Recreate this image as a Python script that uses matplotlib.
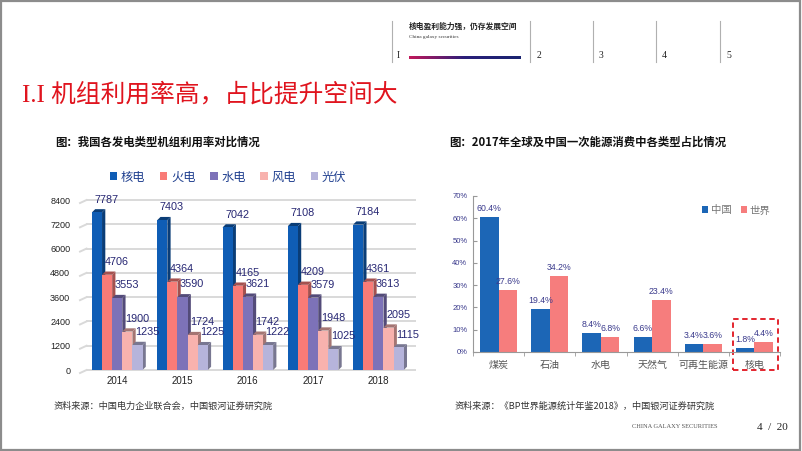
import numpy as np
import matplotlib
matplotlib.use('Agg')
import matplotlib.pyplot as plt
import matplotlib.colors as mcolors
from matplotlib.patches import Polygon, Rectangle, Patch

plt.rcParams['font.family'] = ['Noto Sans CJK SC', 'DejaVu Sans']

# ---- data: left chart (unit utilisation hours)
years = ['2014', '2015', '2016', '2017', '2018']
series_names = ['核电', '火电', '水电', '风电', '光伏']
nuclear = [7787, 7403, 7042, 7108, 7184]
thermal = [4706, 4364, 4165, 4209, 4361]
hydro = [3553, 3590, 3621, 3579, 3613]
wind = [1900, 1724, 1742, 1948, 2095]
solar = [1235, 1225, 1222, 1025, 1115]
left_yticks = [0, 1200, 2400, 3600, 4800, 6000, 7200, 8400]
left_colors = ['#0f5db5', '#f97b77', '#7d72b8', '#f8b2ae', '#b6b4db']

# ---- data: right chart (share of primary energy, 2017)
categories = ['煤炭', '石油', '水电', '天然气', '可再生能源', '核电']
china = [60.4, 19.4, 8.4, 6.6, 3.4, 1.8]
world = [27.6, 34.2, 6.8, 23.4, 3.6, 4.4]
right_yticks = [0, 10, 20, 30, 40, 50, 60, 70]

W, H = 802, 451
fig = plt.figure(figsize=(8.02, 4.51), dpi=100)


def fx(px):
    return px / W


def fy(py):
    return 1 - py / H


# slide frame
fig.patches.append(Rectangle((0.001, 0.002), 0.997, 0.995, transform=fig.transFigure,
                             fill=False, edgecolor='#8c8c8c', linewidth=1.6))

# ---- header navigation
for xp in [392, 530, 593, 656, 720]:
    fig.add_artist(plt.Line2D([fx(xp), fx(xp)], [fy(21), fy(62)], color='#b0b0b0', linewidth=0.8))
fig.text(fx(409), fy(26), '核电盈利能力强，仍存发展空间', fontsize=5.6, color='#222222',
         va='center', ha='left', fontweight='bold')
fig.text(fx(409), fy(37), 'China galaxy securities', fontsize=3.8, color='#333333',
         va='center', ha='left', family='Liberation Serif')
for lab, xp in zip(['I', '2', '3', '4', '5'], [397, 537, 599, 662, 726]):
    fig.text(fx(xp), fy(56), lab, fontsize=7, color='#222222', va='center', ha='left',
             family='Liberation Serif')
gax = fig.add_axes([fx(409), fy(59), fx(521 - 409), 3 / H])
grad = mcolors.LinearSegmentedColormap.from_list('g', ['#c2185b', '#2a1f7a', '#1a2470'])
gax.imshow(np.linspace(0, 1, 200).reshape(1, -1), aspect='auto', cmap=grad)
gax.axis('off')

# ---- title
fig.text(fx(22), fy(95), 'I.I 机组利用率高，占比提升空间大', fontsize=17.8, color='#e0141e',
         va='center', ha='left', family=['Liberation Serif', 'Noto Sans CJK SC'])

fig.text(fx(55), fy(142), '图：我国各发电类型机组利用率对比情况', fontsize=8.2,
         fontweight='bold', va='center', ha='left', color='#111111')
fig.text(fx(449), fy(142), '图：2017年全球及中国一次能源消费中各类型占比情况', fontsize=8.2,
         fontweight='bold', va='center', ha='left', color='#111111')

# ---- left chart: pseudo 3D bars
ax = fig.add_axes([fx(80), fy(370), fx(415 - 80), (370 - 200) / H])
xlim = (-0.57, 4.56)
ax.set_xlim(*xlim)
ax.set_ylim(0, 8400)
for s in ax.spines.values():
    s.set_visible(False)

dx, dy = 0.05, 160
wall_dx, wall_dy = 0.1, 150
for t in left_yticks:
    ax.plot([xlim[0] + wall_dx, xlim[1]], [t, t], color='#d9d9d9', linewidth=1.4, zorder=0,
            clip_on=False)
    ax.plot([xlim[0], xlim[0] + wall_dx], [t - wall_dy, t], color='#d9d9d9', linewidth=1.4,
            zorder=0, clip_on=False)

all_series = [nuclear, thermal, hydro, wind, solar]
bw = 0.155
x = np.arange(len(years))
z = 2
for j, (vals, col) in enumerate(zip(all_series, left_colors)):
    dark = tuple(c * 0.66 for c in mcolors.to_rgb(col))
    xl = x - 2.5 * bw + j * bw
    for xi, v in zip(xl, vals):
        side = [(xi + bw, 0), (xi + bw + dx, dy), (xi + bw + dx, v + dy), (xi + bw, v)]
        top = [(xi, v), (xi + dx, v + dy), (xi + bw + dx, v + dy), (xi + bw, v)]
        ax.add_patch(Polygon(side, closed=True, facecolor=dark, edgecolor='none', zorder=z))
        ax.add_patch(Polygon(top, closed=True, facecolor=dark, edgecolor='none', zorder=z))
        ax.text(xi + 0.04, v + dy + 230, str(v), fontsize=7.8, color='#262673',
                ha='left', va='bottom', family='Liberation Sans', zorder=20)
    ax.bar(xl, vals, width=bw, align='edge', color=col, edgecolor='none', zorder=z + 1)
    z += 2

ax.set_xticks(x)
ax.set_xticklabels(years, fontsize=7, color='#222222', family='Liberation Sans')
ax.set_yticks(left_yticks)
ax.set_yticklabels([str(t) for t in left_yticks], fontsize=6.5, color='#222222',
                   family='Liberation Sans')
ax.tick_params(length=0, pad=4)
ax.tick_params(axis='y', pad=7)

handles = [Patch(facecolor=c, edgecolor='none') for c in left_colors]
fig.legend(handles, series_names, loc='center', bbox_to_anchor=(fx(228), fy(177)), ncol=5,
           frameon=False, fontsize=8.8, handlelength=0.6, handleheight=0.6,
           handletextpad=0.3, columnspacing=1.2, labelcolor='#1f3f8f')

# ---- right chart
ax2 = fig.add_axes([fx(473), fy(352), fx(780 - 473), (352 - 196) / H])
xc = np.arange(len(categories))
bw2 = 0.36
china_col = '#1c66b6'
world_col = '#f67d7d'
ax2.bar(xc - bw2 / 2, china, width=bw2, color=china_col, edgecolor='none', label='中国')
ax2.bar(xc + bw2 / 2, world, width=bw2, color=world_col, edgecolor='none', label='世界')
for xi, v in zip(xc - bw2 / 2, china):
    ax2.text(xi, v + 1.8, f'{v:.1f}%', ha='center', va='bottom', fontsize=6.3,
             color='#3a3a8c', family='Liberation Sans')
for xi, v in zip(xc + bw2 / 2, world):
    ax2.text(xi, v + 1.8, f'{v:.1f}%', ha='center', va='bottom', fontsize=6.3,
             color='#3a3a8c', family='Liberation Sans')
ax2.set_xlim(-0.5, len(categories) - 0.5)
ax2.set_ylim(0, 70)
ax2.set_yticks(right_yticks)
ax2.set_yticklabels([f'{t}%' for t in right_yticks], fontsize=5.5, color='#3a3a8c',
                    family='Liberation Sans')
ax2.set_xticks(xc)
ax2.set_xticklabels(categories, fontsize=7.2, color='#555555')
ax2.set_xticks(np.arange(len(categories) + 1) - 0.5, minor=True)
ax2.tick_params(axis='x', which='major', length=0, pad=6)
ax2.tick_params(axis='x', which='minor', length=3, color='#999999', direction='out')
ax2.tick_params(axis='y', length=3, direction='in', color='#999999', pad=4)
ax2.spines['top'].set_visible(False)
ax2.spines['right'].set_visible(False)
ax2.spines['left'].set_color('#999999')
ax2.spines['bottom'].set_color('#999999')
ax2.legend(loc='upper right', bbox_to_anchor=(1.0, 1.0), frameon=False, fontsize=7.5,
           handlelength=0.6, handleheight=0.6, handletextpad=0.3, columnspacing=0.8,
           ncol=2, labelcolor='#777777')

# dashed highlight round 核电
k = categories.index('核电')
ax2.add_patch(Rectangle((k - 0.42, -8.1), 0.88, 22.9, fill=False, edgecolor='#e0141e',
                        linestyle=(0, (3, 2)), linewidth=1.3, clip_on=False))

# ---- footnotes
fig.text(fx(54), fy(406), '资料来源：中国电力企业联合会，中国银河证券研究院', fontsize=6.6,
         style='italic', color='#333333', va='center', ha='left')
fig.text(fx(455), fy(406), '资料来源：《BP世界能源统计年鉴2018》，中国银河证券研究院',
         fontsize=6.6, style='italic', color='#333333', va='center', ha='left')
fig.text(fx(632), fy(427), 'CHINA GALAXY SECURITIES', fontsize=4.6, color='#555555',
         va='center', ha='left', family='Liberation Serif')
fig.text(fx(757), fy(427), '4  /  20', fontsize=8, color='#222222', va='center', ha='left',
         family='Liberation Serif')

fig.savefig('out.png', dpi=100)
